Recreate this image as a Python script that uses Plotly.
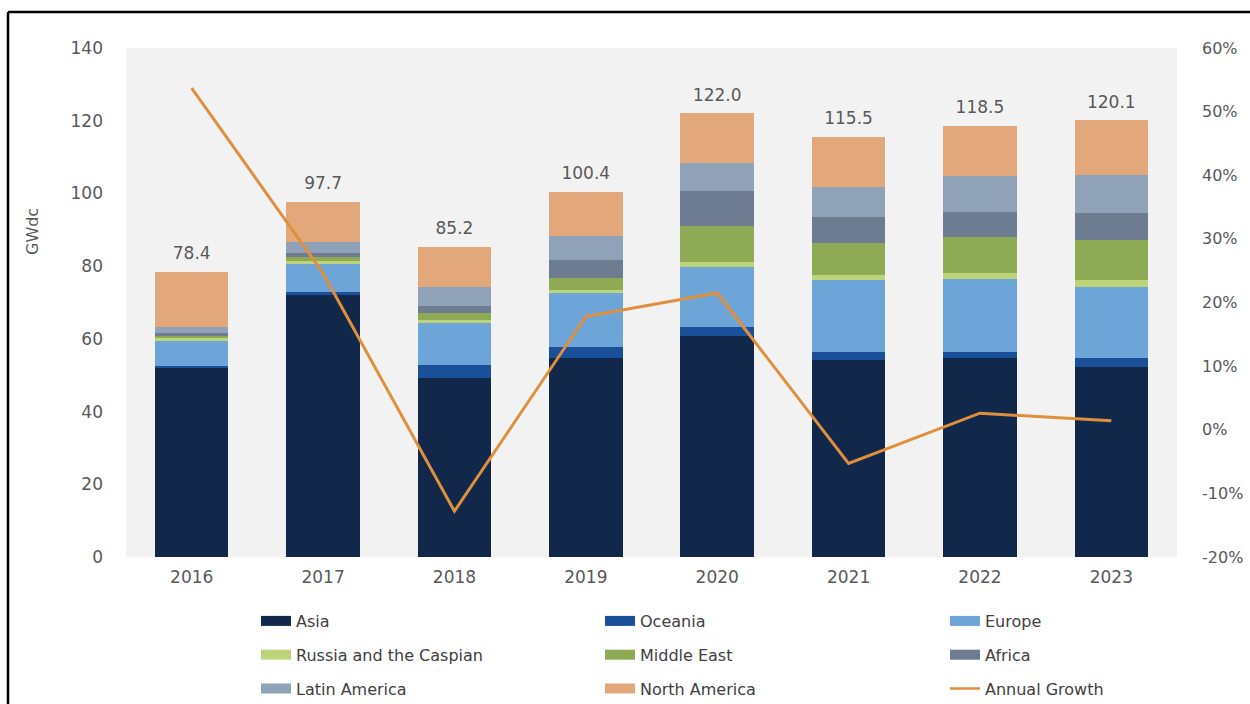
import plotly.graph_objects as go

years = ["2016", "2017", "2018", "2019", "2020", "2021", "2022", "2023"]

asia = [52.0, 72.0, 49.3, 54.7, 60.7, 54.2, 54.6, 52.3]
oceania = [0.5, 1.0, 3.5, 3.1, 2.5, 2.3, 1.9, 2.3]
europe = [7.0, 7.5, 11.6, 14.8, 16.7, 19.7, 20.1, 19.7]
russia = [0.7, 1.0, 0.8, 0.8, 1.2, 1.4, 1.4, 1.9]
middle_east = [0.7, 1.0, 2.0, 3.3, 10.0, 8.7, 10.1, 11.0]
africa = [0.8, 1.2, 1.8, 5.0, 9.6, 7.3, 6.9, 7.3]
latin_america = [1.5, 3.0, 5.2, 6.6, 7.6, 8.2, 9.8, 10.6]
north_america = [15.2, 11.0, 11.0, 12.1, 13.7, 13.7, 13.7, 15.0]

total_labels = ["78.4", "97.7", "85.2", "100.4", "122.0", "115.5", "118.5", "120.1"]
annual_growth = [53.7, 24.6, -12.8, 17.8, 21.5, -5.3, 2.6, 1.4]

left_ticks = [0, 20, 40, 60, 80, 100, 120, 140]
right_ticks = [-20, -10, 0, 10, 20, 30, 40, 50, 60]
right_tick_labels = ["-20%", "-10%", "0%", "10%", "20%", "30%", "40%", "50%", "60%"]

series = [
    ("Asia", asia, "#11284a"),
    ("Oceania", oceania, "#1a4f99"),
    ("Europe", europe, "#6ea5d8"),
    ("Russia and the Caspian", russia, "#bdd47a"),
    ("Middle East", middle_east, "#8faa55"),
    ("Africa", africa, "#6d7c91"),
    ("Latin America", latin_america, "#8fa2b8"),
    ("North America", north_america, "#e3a77c"),
]
line_color = "#e08f3c"
text_color = "#595959"
font_family = "DejaVu Sans"

fig = go.Figure()

for name, vals, col in series:
    fig.add_trace(go.Bar(
        x=years, y=vals, name=name, marker=dict(color=col, line=dict(width=0)),
        width=0.56, showlegend=False,
    ))

totals = [sum(v) for v in zip(*[s[1] for s in series])]
fig.add_trace(go.Scatter(
    x=years, y=totals, mode="markers+text", text=total_labels, textposition="top center",
    marker=dict(size=12, color="rgba(0,0,0,0)"),
    textfont=dict(size=17, color=text_color, family=font_family), showlegend=False,
    hoverinfo="skip",
))

fig.add_trace(go.Scatter(
    x=years, y=annual_growth, mode="lines", name="Annual Growth", yaxis="y2",
    line=dict(color=line_color, width=3), showlegend=False,
))

# legend entries, arranged in three columns (row-major order as in the reference)
legend_items = [(n, c, 10) for n, _, c in series] + [("Annual Growth", line_color, 2.5)]
legend_ids = ["legend", "legend2", "legend3"]
for i, (name, col, w) in enumerate(legend_items):
    fig.add_trace(go.Scatter(
        x=[None], y=[None], mode="lines", name=name,
        line=dict(color=col, width=w), showlegend=True,
        legend=legend_ids[i % 3], legendgroup=name,
    ))

L, R, T, B = 126, 73, 48, 147
W, H = 1250, 704
pw, ph = W - L - R, H - T - B

def px(x):
    return (x - L) / pw

def py(y):
    return (H - B - y) / ph

def legend_at(xpix):
    return dict(
        orientation="v", x=px(xpix), y=py(604), xanchor="left", yanchor="top",
        traceorder="grouped", tracegroupgap=10,
        font=dict(size=16, color="#404040", family=font_family),
        bgcolor="rgba(0,0,0,0)",
    )

fig.update_layout(
    width=W, height=H,
    margin=dict(l=L, r=R, t=T, b=B, pad=0, autoexpand=False),
    paper_bgcolor="white",
    plot_bgcolor="#f2f2f2",
    barmode="stack",
    font=dict(family=font_family, size=17, color=text_color),
    xaxis=dict(
        type="category", showgrid=False, zeroline=False, showline=False,
        ticks="", tickfont=dict(size=17, color=text_color), ticklabelstandoff=8,
    ),
    yaxis=dict(
        range=[0, 140], tickvals=left_ticks, showgrid=False, zeroline=False, showline=False,
        tickfont=dict(size=17, color=text_color), ticklabelstandoff=22,
    ),
    yaxis2=dict(
        range=[-20, 60], tickvals=right_ticks, ticktext=right_tick_labels,
        overlaying="y", side="right", showgrid=False,
        zeroline=False, showline=False,
        tickfont=dict(size=16, color=text_color), ticklabelstandoff=24,
    ),
    legend=legend_at(256),
    legend2=legend_at(600),
    legend3=legend_at(945),
    annotations=[dict(
        text="GWdc", x=px(32), y=py(232), xref="paper", yref="paper",
        xanchor="center", yanchor="middle",
        textangle=-90, showarrow=False, font=dict(size=16, color=text_color),
    )],
    shapes=[
        dict(type="line", xref="paper", yref="paper", x0=px(8), x1=px(8),
             y0=py(H + 5), y1=py(12), line=dict(color="black", width=2.5)),
        dict(type="line", xref="paper", yref="paper", x0=px(8), x1=px(W + 5),
             y0=py(12), y1=py(12), line=dict(color="black", width=2.5)),
    ],
)

fig.write_html("out.html")
